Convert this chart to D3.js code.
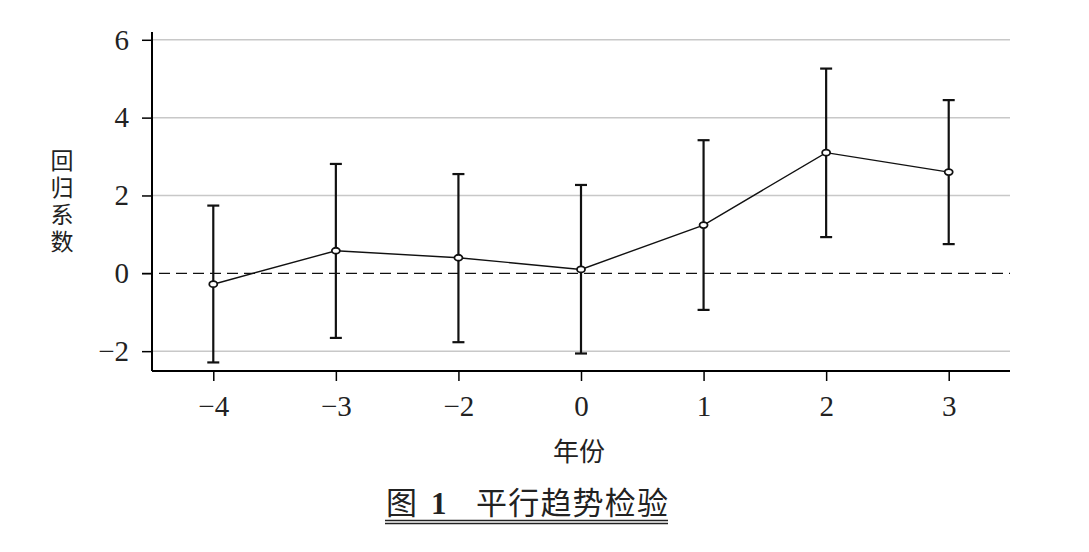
<!DOCTYPE html>
<html><head><meta charset="utf-8">
<script src="https://cdn.jsdelivr.net/npm/d3@7/dist/d3.min.js"></script>
<style>body{margin:0;background:#fff}</style>
</head><body>
<svg id="c" width="1089" height="552"></svg>
<script>
const years = ["−4","−3","−2","0","1","2","3"];
const coef  = [-0.28, 0.58, 0.40, 0.10, 1.24, 3.10, 2.60];
const ciLow = [-2.29, -1.66, -1.77, -2.06, -0.94, 0.93, 0.75];
const ciHigh= [1.74, 2.81, 2.55, 2.27, 3.42, 5.26, 4.45];
const yTicks = [-2, 0, 2, 4, 6];
const yLabel = "回归系数";
const xLabel = "年份";
const titleParts = ["图", "1", "平行趋势检验"];

const svg = d3.select("#c");
const L = 152, R = 1010, T = 32, B = 371;
const x = d3.scalePoint().domain(years).range([L, R]).padding(0.5);
const y = d3.scaleLinear().domain([-2.51, 6.2]).range([B, T]);
const serif = "'Liberation Serif','DejaVu Serif',serif";
const cjk = "'Noto Sans CJK SC',sans-serif";

// gridlines
svg.append("g").selectAll("line").data(yTicks.filter(d => d !== 0)).join("line")
  .attr("x1", L).attr("x2", R).attr("y1", d => y(d)).attr("y2", d => y(d))
  .attr("stroke", "#c8c8c8").attr("stroke-width", 1.5);
// zero dashed
svg.append("line").attr("x1", 142).attr("x2", R).attr("y1", y(0)).attr("y2", y(0))
  .attr("stroke", "#111").attr("stroke-width", 1.3).attr("stroke-dasharray", "11,6");

// axes
const ya = svg.append("g").attr("transform", `translate(${L},0)`)
  .call(d3.axisLeft(y).tickValues(yTicks).tickSize(10).tickPadding(13)
    .tickFormat(d => d < 0 ? "−" + Math.abs(d) : String(d)));
ya.select(".domain").attr("d", `M0,${T}V${B}`).attr("stroke-width", 2);
ya.selectAll(".tick line").attr("stroke-width", 1.5);
ya.selectAll("text").attr("font-family", serif).attr("font-size", 29).attr("fill", "#222");

const xa = svg.append("g").attr("transform", `translate(0,${B})`)
  .call(d3.axisBottom(x).tickSize(10).tickPadding(14));
xa.select(".domain").attr("d", `M${L},0H${R}`).attr("stroke-width", 2);
xa.selectAll(".tick line").attr("stroke-width", 1.5);
xa.selectAll("text").attr("font-family", serif).attr("font-size", 29).attr("fill", "#222");

// error bars
const data = years.map((k, i) => ({k, c: coef[i], lo: ciLow[i], hi: ciHigh[i]}));
const eb = svg.append("g").attr("stroke", "#111").attr("stroke-width", 2.2);
eb.selectAll(".v").data(data).join("line")
  .attr("x1", d => x(d.k)).attr("x2", d => x(d.k)).attr("y1", d => y(d.lo)).attr("y2", d => y(d.hi));
eb.selectAll(".t").data(data).join("line")
  .attr("x1", d => x(d.k) - 6).attr("x2", d => x(d.k) + 6).attr("y1", d => y(d.hi)).attr("y2", d => y(d.hi));
eb.selectAll(".b").data(data).join("line")
  .attr("x1", d => x(d.k) - 6).attr("x2", d => x(d.k) + 6).attr("y1", d => y(d.lo)).attr("y2", d => y(d.lo));

// line
svg.append("path").datum(data)
  .attr("d", d3.line().x(d => x(d.k)).y(d => y(d.c)))
  .attr("fill", "none").attr("stroke", "#111").attr("stroke-width", 1.4);
svg.append("g").selectAll("ellipse").data(data).join("ellipse")
  .attr("cx", d => x(d.k)).attr("cy", d => y(d.c)).attr("rx", 4).attr("ry", 3)
  .attr("fill", "#fff").attr("stroke", "#111").attr("stroke-width", 1.8);

// y label vertical (single text, vertical writing)
svg.append("text").attr("x", 62).attr("y", 149)
  .style("writing-mode", "vertical-rl").style("text-orientation", "upright")
  .attr("letter-spacing", 4)
  .attr("font-family", cjk).attr("font-size", 23).attr("fill", "#222").text(yLabel);

// x label
svg.append("text").attr("x", 579).attr("y", 461).attr("text-anchor", "middle")
  .attr("font-family", cjk).attr("font-size", 26).attr("fill", "#222").text(xLabel);

// title
const tt = svg.append("text").attr("y", 514)
  .attr("font-family", cjk).attr("font-size", 31).attr("fill", "#222");
tt.append("tspan").attr("x", 386).text(titleParts[0]);
tt.append("tspan").attr("x", 431).attr("font-family", serif).attr("font-weight", "bold").text(titleParts[1]);
tt.append("tspan").attr("x", 476).attr("letter-spacing", 1.2).text(titleParts[2]);
svg.append("line").attr("x1", 385).attr("x2", 668).attr("y1", 520.5).attr("y2", 520.5).attr("stroke", "#222").attr("stroke-width", 1.3);
svg.append("line").attr("x1", 385).attr("x2", 668).attr("y1", 523.5).attr("y2", 523.5).attr("stroke", "#222").attr("stroke-width", 1.3);
</script>
</body></html>
